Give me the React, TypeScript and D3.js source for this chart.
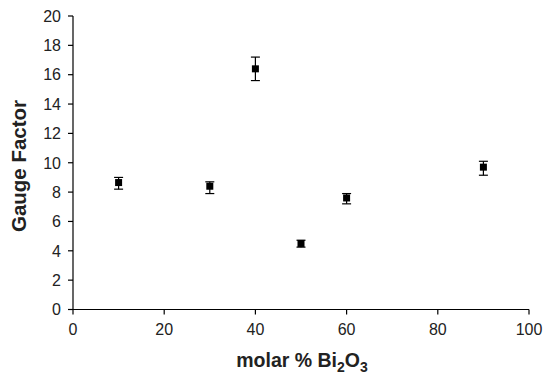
import React from 'react';
import * as d3 from 'd3';

const molarPct = [10, 30, 40, 50, 60, 90];
const gaugeFactor = [8.65, 8.4, 16.4, 4.5, 7.6, 9.7];
const errTop = [0.35, 0.3, 0.8, 0.22, 0.3, 0.4];
const errBottom = [0.45, 0.5, 0.8, 0.25, 0.4, 0.55];
const xTicks = [0, 20, 40, 60, 80, 100];
const yTicks = [0, 2, 4, 6, 8, 10, 12, 14, 16, 18, 20];

const W = 545;
const H = 374;
const margin = { top: 16, right: 16, bottom: 64.5, left: 73 };

const App: React.FC = () => {
  const x = d3.scaleLinear().domain([0, 100]).range([margin.left, W - margin.right]);
  const y = d3.scaleLinear().domain([0, 20]).range([H - margin.bottom, margin.top]);
  const font = 'Liberation Sans, Arial, Helvetica, sans-serif';
  const y0 = y(0);
  const x0 = x(0);

  return (
    <svg width={W} height={H} style={{ position: 'absolute', left: 0, top: 0, background: '#fff' }}>
      {/* axes */}
      <line x1={x0} x2={x(100)} y1={y0} y2={y0} stroke="#000" strokeWidth={1.2} />
      <line x1={x0} x2={x0} y1={y(20)} y2={y0} stroke="#000" strokeWidth={1.2} />
      {xTicks.map(t => (
        <g key={'x' + t}>
          <line x1={x(t)} x2={x(t)} y1={y0} y2={y0 + 5} stroke="#000" strokeWidth={1.2} />
          <text x={x(t)} y={y0 + 25.5} textAnchor="middle" fontFamily={font} fontSize={16} fill="#222">{t}</text>
        </g>
      ))}
      {yTicks.map(t => (
        <g key={'y' + t}>
          <line x1={x0 - 5} x2={x0} y1={y(t)} y2={y(t)} stroke="#000" strokeWidth={1.2} />
          <text x={x0 - 12} y={y(t)} dy="0.36em" textAnchor="end" fontFamily={font} fontSize={16} fill="#222">{t}</text>
        </g>
      ))}

      {/* error bars + markers */}
      {molarPct.map((m, i) => {
        const cx = x(m);
        const cy = y(gaugeFactor[i]);
        const yt = y(gaugeFactor[i] + errTop[i]);
        const yb = y(gaugeFactor[i] - errBottom[i]);
        return (
          <g key={'p' + i}>
            <line x1={cx} x2={cx} y1={yt} y2={yb} stroke="#000" strokeWidth={1.2} />
            <line x1={cx - 4.5} x2={cx + 4.5} y1={yt} y2={yt} stroke="#000" strokeWidth={1.2} />
            <line x1={cx - 4.5} x2={cx + 4.5} y1={yb} y2={yb} stroke="#000" strokeWidth={1.2} />
            <rect x={cx - 3.5} y={cy - 3.5} width={7} height={7} fill="#000" />
          </g>
        );
      })}

      {/* titles */}
      <text
        transform={`translate(${26},${166}) rotate(-90)`}
        textAnchor="middle"
        fontFamily={font}
        fontSize={20.5}
        fontWeight="bold"
        fill="#222"
      >
        Gauge Factor
      </text>
      <text x={(x0 + x(100)) / 2 + 1} y={367} textAnchor="middle" fontFamily={font} fontSize={19.5} fontWeight="bold" fill="#222">
        molar % Bi<tspan fontSize={14} dy={5}>2</tspan><tspan dy={-5}>O</tspan><tspan fontSize={14} dy={5}>3</tspan>
      </text>
    </svg>
  );
};

export default App;
